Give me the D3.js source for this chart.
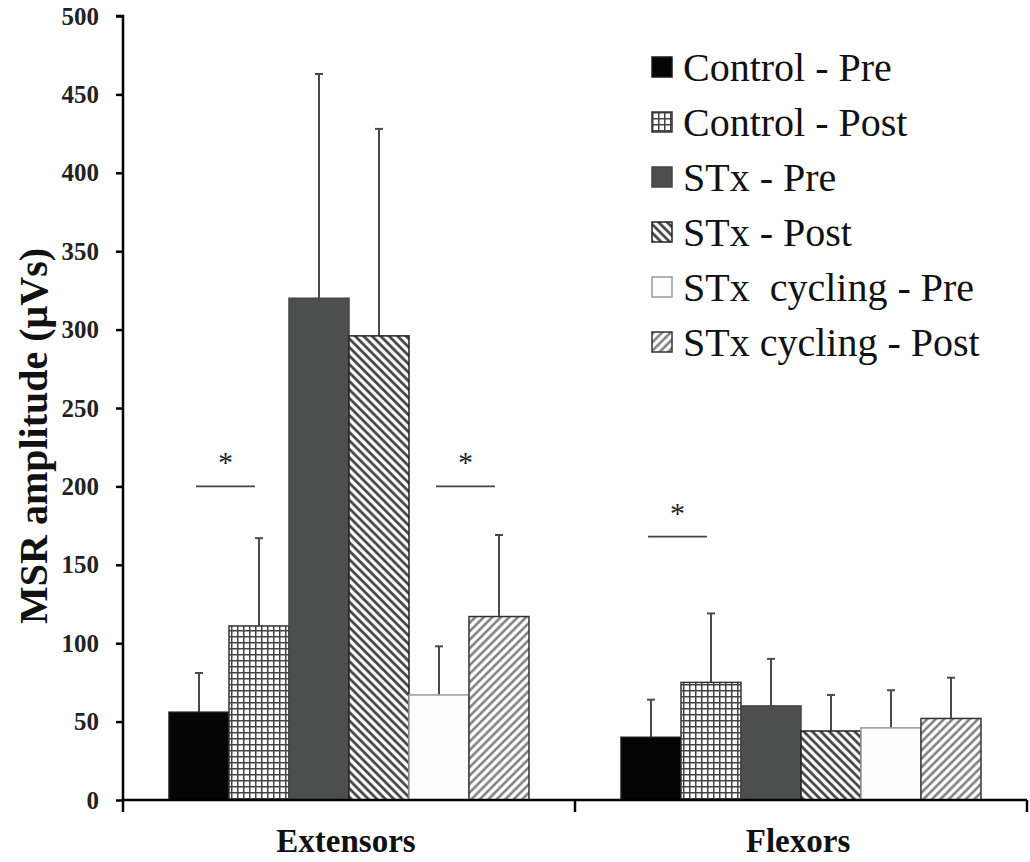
<!DOCTYPE html>
<html>
<head>
<meta charset="utf-8">
<script src="https://cdn.jsdelivr.net/npm/d3@7"></script>
<style>
  html, body { margin: 0; padding: 0; background: #fff; }
  svg { display: block; }
  svg text { font-family: "Liberation Serif", "Times New Roman", "DejaVu Serif", serif; }
</style>
</head>
<body>
<svg id="chart" width="1030" height="862"></svg>
<script>
// ---- data ----
const categories = ["Extensors", "Flexors"];
const seriesNames = ["Control - Pre", "Control - Post", "STx - Pre", "STx - Post", "STx  cycling - Pre", "STx cycling - Post"];
const controlPre  = [56, 40];
const controlPost = [111, 75];
const stxPre      = [320, 60];
const stxPost     = [296, 44];
const cyclingPre  = [67, 46];
const cyclingPost = [117, 52];
const controlPreErr  = [25, 24];
const controlPostErr = [56, 44];
const stxPreErr      = [143, 30];
const stxPostErr     = [132, 23];
const cyclingPreErr  = [31, 24];
const cyclingPostErr = [52, 26];
const yTicks = [0, 50, 100, 150, 200, 250, 300, 350, 400, 450, 500];
const significance = [
  { category: "Extensors", from: 0, to: 1, level: 200 },
  { category: "Extensors", from: 4, to: 5, level: 200 },
  { category: "Flexors",   from: 0, to: 1, level: 168 }
];

const seriesValues = [controlPre, controlPost, stxPre, stxPost, cyclingPre, cyclingPost];
const seriesErrors = [controlPreErr, controlPostErr, stxPreErr, stxPostErr, cyclingPreErr, cyclingPostErr];

const FONT = "'Liberation Serif', 'Times New Roman', 'DejaVu Serif', serif";

// ---- setup ----
const svg = d3.select("#chart");
const defs = svg.append("defs");

// patterns
const grid = defs.append("pattern").attr("id", "pGrid").attr("patternUnits", "userSpaceOnUse")
  .attr("width", 6).attr("height", 6);
grid.append("rect").attr("width", 6).attr("height", 6).attr("fill", "#fff");
grid.append("path").attr("d", "M0,0.75H6M0.75,0V6").attr("stroke", "#444").attr("stroke-width", 1.5);

// "\" hatch for STx - Post
const back = defs.append("pattern").attr("id", "pBack").attr("patternUnits", "userSpaceOnUse")
  .attr("width", 6).attr("height", 6).attr("patternTransform", "rotate(45)");
back.append("rect").attr("width", 6).attr("height", 6).attr("fill", "#fff");
back.append("path").attr("d", "M0,1.5H6").attr("stroke", "#3a3a3a").attr("stroke-width", 2.6);

// "/" hatch for STx cycling - Post
const fwd = defs.append("pattern").attr("id", "pFwd").attr("patternUnits", "userSpaceOnUse")
  .attr("width", 6).attr("height", 6).attr("patternTransform", "rotate(-45)");
fwd.append("rect").attr("width", 6).attr("height", 6).attr("fill", "#fff");
fwd.append("path").attr("d", "M0,1.5H6").attr("stroke", "#777").attr("stroke-width", 2.4);

const styles = [
  { fill: "#050505", stroke: "#1a1a1a" },
  { fill: "url(#pGrid)", stroke: "#333" },
  { fill: "#4d4f4e", stroke: "#444" },
  { fill: "url(#pBack)", stroke: "#222" },
  { fill: "#fdfdfd", stroke: "#999" },
  { fill: "url(#pFwd)", stroke: "#333" }
];

const x0 = d3.scaleBand().domain(categories).range([123, 1027]).padding(0);
const x1 = d3.scaleBand().domain(d3.range(seriesNames.length))
  .range([0, x0.bandwidth()]).paddingInner(0).paddingOuter(0.767);
const y = d3.scaleLinear().domain([0, 500]).range([800, 16]);

// bars
const groups = svg.append("g").selectAll("g").data(categories).join("g")
  .attr("transform", d => `translate(${x0(d)},0)`);

groups.each(function(cat, ci) {
  const g = d3.select(this);
  seriesNames.forEach((s, si) => {
    const v = seriesValues[si][ci];
    const e = seriesErrors[si][ci];
    const bx = x1(si), bw = x1.bandwidth();
    const cx = bx + bw / 2;
    g.append("line").attr("x1", cx).attr("x2", cx).attr("y1", y(v)).attr("y2", y(v + e))
      .attr("stroke", "#4a4a4a").attr("stroke-width", 2);
    g.append("line").attr("x1", cx - 4).attr("x2", cx + 4).attr("y1", y(v + e)).attr("y2", y(v + e))
      .attr("stroke", "#4a4a4a").attr("stroke-width", 2);
    g.append("rect").attr("x", bx).attr("y", y(v)).attr("width", bw).attr("height", y(0) - y(v))
      .attr("fill", styles[si].fill).attr("stroke", styles[si].stroke).attr("stroke-width", 1.5);
  });
});

// axes
const yAxis = d3.axisLeft(y).tickValues(yTicks).tickSize(7).tickPadding(17);
const yg = svg.append("g").attr("transform", "translate(123,0)").call(yAxis);
yg.select(".domain").attr("stroke", "#000").attr("stroke-width", 2.5).attr("d", "M-7,16H0V812");
yg.selectAll(".tick line").attr("stroke", "#000").attr("stroke-width", 2.5);
yg.selectAll(".tick text").attr("font-family", FONT).style("font-family", FONT)
  .attr("font-weight", "bold").attr("font-size", 25).attr("fill", "#222");

const xg = svg.append("g").attr("transform", "translate(0,800)");
xg.append("line").attr("x1", 123).attr("x2", 1027).attr("y1", 0).attr("y2", 0)
  .attr("stroke", "#000").attr("stroke-width", 2.5);
const boundaries = categories.map(c => x0(c) + x0.bandwidth());
xg.selectAll("line.tk").data(boundaries).join("line").attr("class", "tk")
  .attr("x1", d => d).attr("x2", d => d).attr("y1", 0).attr("y2", 12)
  .attr("stroke", "#000").attr("stroke-width", 2.5);
xg.selectAll("text").data(categories).join("text")
  .attr("x", d => x0(d) + x0.bandwidth() / 2 - 3).attr("y", 52)
  .attr("text-anchor", "middle")
  .style("font-family", FONT)
  .attr("font-weight", "bold").attr("font-size", 33).attr("fill", "#111")
  .text(d => d);

// y title
svg.append("text")
  .attr("transform", "translate(47,436) rotate(-90)")
  .attr("text-anchor", "middle")
  .style("font-family", FONT)
  .attr("font-weight", "bold").attr("font-size", 40).attr("fill", "#111")
  .text("MSR amplitude (μVs)");

// significance markers
significance.forEach(sg => {
  const a = x0(sg.category) + x1(sg.from) + x1.bandwidth() / 2 - 3;
  const b = x0(sg.category) + x1(sg.to) + x1.bandwidth() / 2 - 4;
  svg.append("line").attr("x1", a).attr("x2", b).attr("y1", y(sg.level)).attr("y2", y(sg.level))
    .attr("stroke", "#444").attr("stroke-width", 1.8);
  svg.append("text").attr("x", (a + b) / 2).attr("y", y(sg.level) - 14)
    .attr("text-anchor", "middle")
    .style("font-family", FONT)
    .attr("font-size", 30).attr("fill", "#222").text("*");
});

// legend
const legend = svg.append("g").attr("transform", "translate(652,57)");
seriesNames.forEach((s, i) => {
  const row = legend.append("g").attr("transform", `translate(0,${i * 55})`);
  row.append("rect").attr("x", 0).attr("y", 0).attr("width", 20).attr("height", 20)
    .attr("fill", styles[i].fill).attr("stroke", styles[i].stroke).attr("stroke-width", 1.5);
  row.append("text").attr("x", 31).attr("y", 24)
    .style("font-family", FONT)
    .attr("font-size", 40).attr("fill", "#111")
    .style("white-space", "pre")
    .text(s);
});
</script>
</body>
</html>
